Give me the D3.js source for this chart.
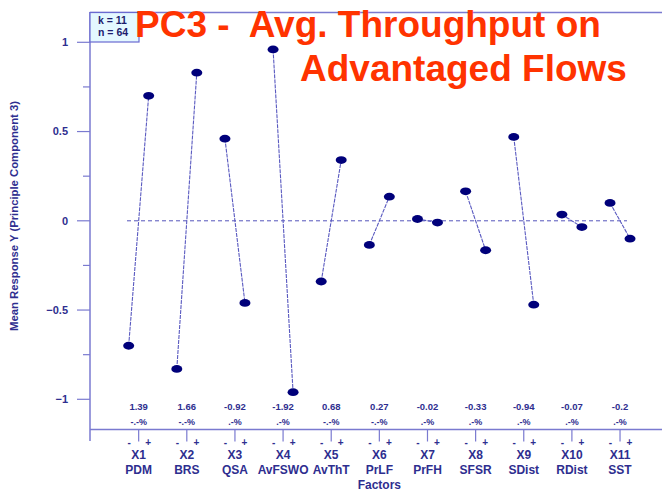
<!DOCTYPE html>
<html><head><meta charset="utf-8">
<script src="https://cdn.jsdelivr.net/npm/d3@7"></script>
<style>
html,body{margin:0;padding:0;background:#fff;}
svg{display:block;font-family:"Liberation Sans",Arial,sans-serif;}
</style></head>
<body><svg id="c" width="662" height="491"></svg>
<script>
const factors = ["X1","X2","X3","X4","X5","X6","X7","X8","X9","X10","X11"];
const factorNames = ["PDM","BRS","QSA","AvFSWO","AvThT","PrLF","PrFH","SFSR","SDist","RDist","SST"];
const lowValues  = [-0.70,-0.83, 0.46, 0.96,-0.34,-0.135, 0.01, 0.165, 0.47, 0.035, 0.10];
const highValues = [ 0.70, 0.83,-0.46,-0.96, 0.34, 0.135,-0.01,-0.165,-0.47,-0.035,-0.10];
const effects = ["1.39","1.66","-0.92","-1.92","0.68","0.27","-0.02","-0.33","-0.94","-0.07","-0.2"];
const pctLabels = ["-.-%","-.-%",".-%",".-%","-.-%","-.-%",".-%",".-%",".-%",".-%",".-%"];
const levels = ["-","+"];
const yTicks = [-1,-0.5,0,0.5,1];
const yMinor = [-0.75,-0.25,0.25,0.75];
const titleLines = ["PC3 -  Avg. Throughput on","Advantaged Flows"];

const svg = d3.select("#c");
const axisCol = "#7a7ad0", textCol = "#2e2e8f", dotCol = "#00007a";

const y = d3.scaleLinear().domain([-1,1]).range([399.3,42.3]);
const x = d3.scaleBand().domain(factors).range([114.6,644.1]).padding(0);
const lv = d3.scalePoint().domain(levels).range([-10,10]);
const cx = f => x(f) + x.bandwidth()/2;

// frame
svg.append("line").attr("x1",90).attr("x2",662).attr("y1",12.5).attr("y2",12.5).attr("stroke",axisCol).attr("stroke-width",1.5);
svg.append("line").attr("x1",90).attr("x2",90).attr("y1",12).attr("y2",441).attr("stroke",axisCol).attr("stroke-width",1.5);
svg.append("line").attr("x1",90).attr("x2",662).attr("y1",429.5).attr("y2",429.5).attr("stroke",axisCol).attr("stroke-width",1.5);

// y ticks
svg.selectAll(".ymaj").data(yTicks).enter().append("line")
  .attr("x1",77).attr("x2",90).attr("y1",d=>y(d)).attr("y2",d=>y(d)).attr("stroke",axisCol).attr("stroke-width",1.2);
svg.selectAll(".ymin").data(yMinor).enter().append("line")
  .attr("x1",83).attr("x2",90).attr("y1",d=>y(d)).attr("y2",d=>y(d)).attr("stroke",axisCol).attr("stroke-width",1.2);
svg.selectAll(".ylab").data(yTicks).enter().append("text")
  .attr("x",68).attr("y",d=>y(d)).attr("dy","0.35em").attr("text-anchor","end")
  .attr("font-size",11).attr("font-weight","bold").attr("fill",textCol).text(d=>d3.format("")(d));

svg.append("text").attr("transform","translate(18,216) rotate(-90)").attr("text-anchor","middle")
  .attr("font-size",11.3).attr("font-weight","bold").attr("fill",textCol)
  .text("Mean Response Y (Principle Component 3)");

// zero line
svg.append("line").attr("x1",127).attr("x2",627).attr("y1",y(0)).attr("y2",y(0))
  .attr("stroke","#5555bb").attr("stroke-width",1).attr("stroke-dasharray","4,3");

// connecting lines
svg.selectAll(".conn").data(factors).enter().append("line")
  .attr("x1",(f)=>cx(f)+lv("-")).attr("x2",f=>cx(f)+lv("+"))
  .attr("y1",(f,i)=>y(lowValues[i])).attr("y2",(f,i)=>y(highValues[i]))
  .attr("stroke","#5a5ac0").attr("stroke-width",1.1).attr("stroke-dasharray","4,1");

// dots
const pts = [];
factors.forEach((f,i)=>{pts.push({f,l:"-",v:lowValues[i]});pts.push({f,l:"+",v:highValues[i]});});
svg.selectAll(".dot").data(pts).enter().append("ellipse")
  .attr("cx",d=>cx(d.f)+lv(d.l)).attr("cy",d=>y(d.v)).attr("rx",5.5).attr("ry",3.9).attr("fill",dotCol);

// effect labels
svg.selectAll(".eff").data(factors).enter().append("text")
  .attr("x",f=>cx(f)).attr("y",407).attr("dy","0.35em").attr("text-anchor","middle")
  .attr("font-size",9.5).attr("font-weight","bold").attr("fill",textCol).text((f,i)=>effects[i]);
svg.selectAll(".pct").data(factors).enter().append("text")
  .attr("x",f=>cx(f)).attr("y",422).attr("dy","0.35em").attr("text-anchor","middle")
  .attr("font-size",9).attr("font-weight","bold").attr("fill",textCol).text((f,i)=>pctLabels[i]);

// x ticks
svg.selectAll(".xt").data(factors).enter().append("line")
  .attr("x1",f=>cx(f)).attr("x2",f=>cx(f)).attr("y1",429).attr("y2",441.5).attr("stroke",axisCol).attr("stroke-width",1.2);
factors.forEach(f=>{
  levels.forEach(l=>{
    svg.append("text").attr("x",cx(f)+lv(l)*0.95).attr("y",442).attr("dy","0.35em").attr("text-anchor","middle")
      .attr("font-size",10).attr("font-weight","bold").attr("fill",textCol).text(l);
  });
});
svg.selectAll(".xl").data(factors).enter().append("text")
  .attr("x",f=>cx(f)).attr("y",454.5).attr("dy","0.35em").attr("text-anchor","middle")
  .attr("font-size",12).attr("font-weight","bold").attr("fill",textCol).text(f=>f);
svg.selectAll(".xn").data(factors).enter().append("text")
  .attr("x",f=>cx(f)).attr("y",469.5).attr("dy","0.35em").attr("text-anchor","middle")
  .attr("font-size",12).attr("font-weight","bold").attr("fill",textCol).text((f,i)=>factorNames[i]);
svg.append("text").attr("x",(cx(factors[0])+cx(factors[10]))/2).attr("y",484.5).attr("dy","0.35em").attr("text-anchor","middle")
  .attr("font-size",12).attr("font-weight","bold").attr("fill",textCol).text("Factors");

// k/n box
svg.append("rect").attr("x",90).attr("y",12.5).attr("width",49).attr("height",29.5)
  .attr("fill","#e4f8ff").attr("stroke","#6a6ad0").attr("stroke-width",1.2);
svg.append("text").attr("x",98).attr("y",24).attr("font-size",10.5).attr("font-weight","bold").attr("fill","#1c1c6e").text("k = 11");
svg.append("text").attr("x",98).attr("y",36).attr("font-size",10.5).attr("font-weight","bold").attr("fill","#1c1c6e").text("n = 64");

// title
svg.append("text").attr("x",135).attr("y",37).attr("font-size",37).attr("font-weight","bold")
  .attr("fill","#ff3300").style("white-space","pre").text(titleLines[0]);
svg.append("text").attr("x",300).attr("y",81).attr("font-size",37).attr("font-weight","bold")
  .attr("fill","#ff3300").style("white-space","pre").text(titleLines[1]);
</script></body></html>
